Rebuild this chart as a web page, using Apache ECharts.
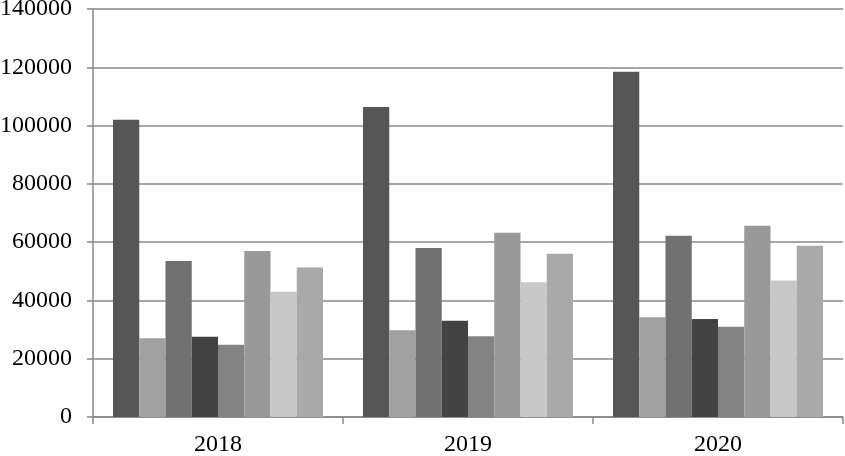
<!DOCTYPE html>
<html>
<head>
<meta charset="utf-8">
<script src="https://cdn.jsdelivr.net/npm/echarts@6/dist/echarts.min.js"></script>
<style>html,body{margin:0;padding:0;background:#fff;}#c{width:845px;height:456px;}</style>
</head>
<body>
<div id="c"></div>
<script>
const categories = ['2018', '2019', '2020'];
const s1 = [102000, 106400, 118500];
const s2 = [27000, 29800, 34200];
const s3 = [53500, 58000, 62200];
const s4 = [27500, 33000, 33600];
const s5 = [24800, 27700, 31000];
const s6 = [57000, 63200, 65600];
const s7 = [43000, 46200, 46800];
const s8 = [51300, 56000, 58800];
const seriesData = [s1, s2, s3, s4, s5, s6, s7, s8];
const colors = ['#565656', '#a0a0a0', '#717171', '#434343', '#838383', '#999999', '#c8c8c8', '#a9a9a9'];
const yTicks = { min: 0, max: 140000, interval: 20000 };

const chart = echarts.init(document.getElementById('c'));
chart.setOption({
  animation: false,
  grid: { left: 93, right: 2, top: 9, bottom: 39, containLabel: false, outerBoundsMode: 'none' },
  xAxis: {
    type: 'category',
    data: categories,
    axisLine: { lineStyle: { color: '#888', width: 1.5 } },
    axisTick: { show: true, length: 7, lineStyle: { color: '#888', width: 1.5 } },
    axisLabel: { fontFamily: 'Liberation Serif', fontSize: 24, color: '#000', margin: 16 }
  },
  yAxis: {
    type: 'value',
    min: yTicks.min, max: yTicks.max, interval: yTicks.interval,
    axisLine: { show: true, lineStyle: { color: '#888', width: 1.5 } },
    axisTick: { show: true, length: 6, lineStyle: { color: '#888', width: 1.5 } },
    splitLine: { lineStyle: { color: '#888', width: 1.5 } },
    axisLabel: { fontFamily: 'Liberation Serif', fontSize: 24, color: '#000', margin: 21, formatter: v => String(v) }
  },
  series: seriesData.map((d, i) => ({
    type: 'bar',
    data: d,
    barGap: '0%',
    barCategoryGap: '16%',
    itemStyle: { color: colors[i] }
  }))
});
</script>
</body>
</html>
